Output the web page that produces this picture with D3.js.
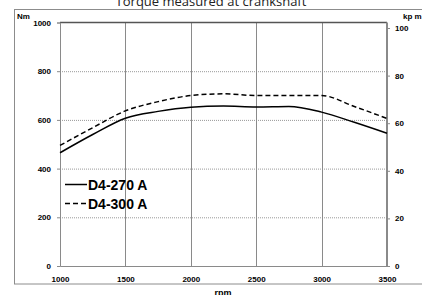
<!DOCTYPE html>
<html>
<head>
<meta charset="utf-8">
<script src="https://cdn.jsdelivr.net/npm/d3@7"></script>
<style>
  body { margin: 0; background: #fff; }
  svg { display: block; font-family: "Liberation Sans", Arial, sans-serif; }
  .tick text { font-size: 8px; font-weight: bold; fill: #000; }
</style>
</head>
<body>
<svg id="chart" width="422" height="295"></svg>
<script>
// values
const rpm = [1000, 1250, 1500, 1750, 2000, 2250, 2500, 2750, 3000, 3250, 3500];
const torque270 = [465, 540, 607, 635, 652, 657, 653, 655, 632, 590, 545];
const torque300 = [495, 568, 637, 675, 700, 707, 700, 700, 700, 655, 606];
const seriesNames = ["D4-270 A", "D4-300 A"];
const xTicks = [1000, 1500, 2000, 2500, 3000, 3500];
const nmTicks = [0, 200, 400, 600, 800, 1000];
const kpmTicks = [0, 20, 40, 60, 80, 100];

const svg = d3.select("#chart");
const plotL = 60, plotR = 387, plotT = 22.5, plotB = 266;
const fmt = d3.format("d");

const x = d3.scaleLinear().domain([1000, 3500]).range([plotL, plotR]);
const yNm = d3.scaleLinear().domain([0, 1000]).range([plotB, plotT]);
const yKpm = d3.scaleLinear().domain([0, 100]).range([plotB, 28]);

// outer frame
svg.append("rect")
  .attr("x", 14.5).attr("y", 9.5)
  .attr("width", 420).attr("height", 274.5)
  .attr("fill", "none").attr("stroke", "#8c8c8c").attr("stroke-width", 1);

// title (partly cut off at top like the reference)
svg.append("text")
  .attr("x", 211).attr("y", 6)
  .attr("text-anchor", "middle")
  .attr("font-family", "'Open Sans', sans-serif")
  .attr("font-size", 13)
  .attr("fill", "#222")
  .text("Torque measured at crankshaft");

// horizontal dotted grid
svg.append("g")
  .selectAll("line")
  .data(nmTicks.filter((d) => d > 0 && d < 1000))
  .join("line")
  .attr("x1", plotL).attr("x2", plotR)
  .attr("y1", (d) => yNm(d) + 0.5).attr("y2", (d) => yNm(d) + 0.5)
  .attr("stroke", "#999").attr("stroke-dasharray", "1,1");

// vertical grid
svg.append("g")
  .selectAll("line")
  .data(xTicks.filter((d) => d > 1000 && d < 3500))
  .join("line")
  .attr("x1", (d) => Math.round(x(d)) + 0.5).attr("x2", (d) => Math.round(x(d)) + 0.5)
  .attr("y1", plotT).attr("y2", plotB)
  .attr("stroke", "#8a8a8a");

// top border line at 1000
svg.append("line")
  .attr("x1", plotL).attr("x2", plotR)
  .attr("y1", plotT).attr("y2", plotT)
  .attr("stroke", "#555").attr("stroke-width", 1.5);

// axes
const gx = svg.append("g")
  .attr("transform", `translate(0,${plotB})`)
  .call(d3.axisBottom(x).tickValues(xTicks).tickFormat(fmt).tickSize(0).tickPadding(10));
gx.select(".domain").attr("stroke", "#8a8a8a");

const gl = svg.append("g")
  .attr("transform", `translate(${plotL},0)`)
  .call(d3.axisLeft(yNm).tickValues(nmTicks).tickFormat(fmt).tickSize(3).tickPadding(6));
gl.select(".domain").attr("stroke", "#8a8a8a");
gl.selectAll(".tick line").attr("stroke", "#8a8a8a");

const gr = svg.append("g")
  .attr("transform", `translate(${plotR},0)`)
  .call(d3.axisRight(yKpm).tickValues(kpmTicks).tickFormat(fmt).tickSize(3).tickPadding(5).tickSizeOuter(0));
gr.select(".domain").attr("stroke", "#8a8a8a").attr("stroke-width", 2)
  .attr("d", `M0,${plotT}V${plotB}`);
gr.selectAll(".tick line").attr("stroke", "#8a8a8a");

// unit labels
svg.append("text").attr("x", 17).attr("y", 19)
  .attr("font-size", 8).attr("font-weight", "bold").text("Nm");
svg.append("text").attr("x", 403).attr("y", 19)
  .attr("font-size", 8).attr("font-weight", "bold").text("kp m");
svg.append("text").attr("x", 223).attr("y", 296)
  .attr("text-anchor", "middle")
  .attr("font-size", 9).attr("font-weight", "bold").text("rpm");

// curves
const line = d3.line()
  .x((d, i) => x(rpm[i]))
  .y((d) => yNm(d))
  .curve(d3.curveMonotoneX);

const series = [
  { name: seriesNames[0], values: torque270, dash: null },
  { name: seriesNames[1], values: torque300, dash: "5,3" }
];

svg.append("g")
  .selectAll("path")
  .data(series)
  .join("path")
  .attr("d", (d) => line(d.values))
  .attr("fill", "none")
  .attr("stroke", "#000")
  .attr("stroke-width", 1.5)
  .attr("stroke-dasharray", (d) => d.dash);

// legend
const legend = svg.append("g")
  .selectAll("g")
  .data(series)
  .join("g")
  .attr("transform", (d, i) => `translate(65,${184.5 + i * 19})`);
legend.append("line")
  .attr("x1", 0).attr("x2", 22)
  .attr("stroke", "#000").attr("stroke-width", 1.5)
  .attr("stroke-dasharray", (d) => d.dash);
legend.append("text")
  .attr("x", 23).attr("y", 5)
  .attr("font-size", 14).attr("font-weight", "bold")
  .text((d) => d.name);
</script>
</body>
</html>
